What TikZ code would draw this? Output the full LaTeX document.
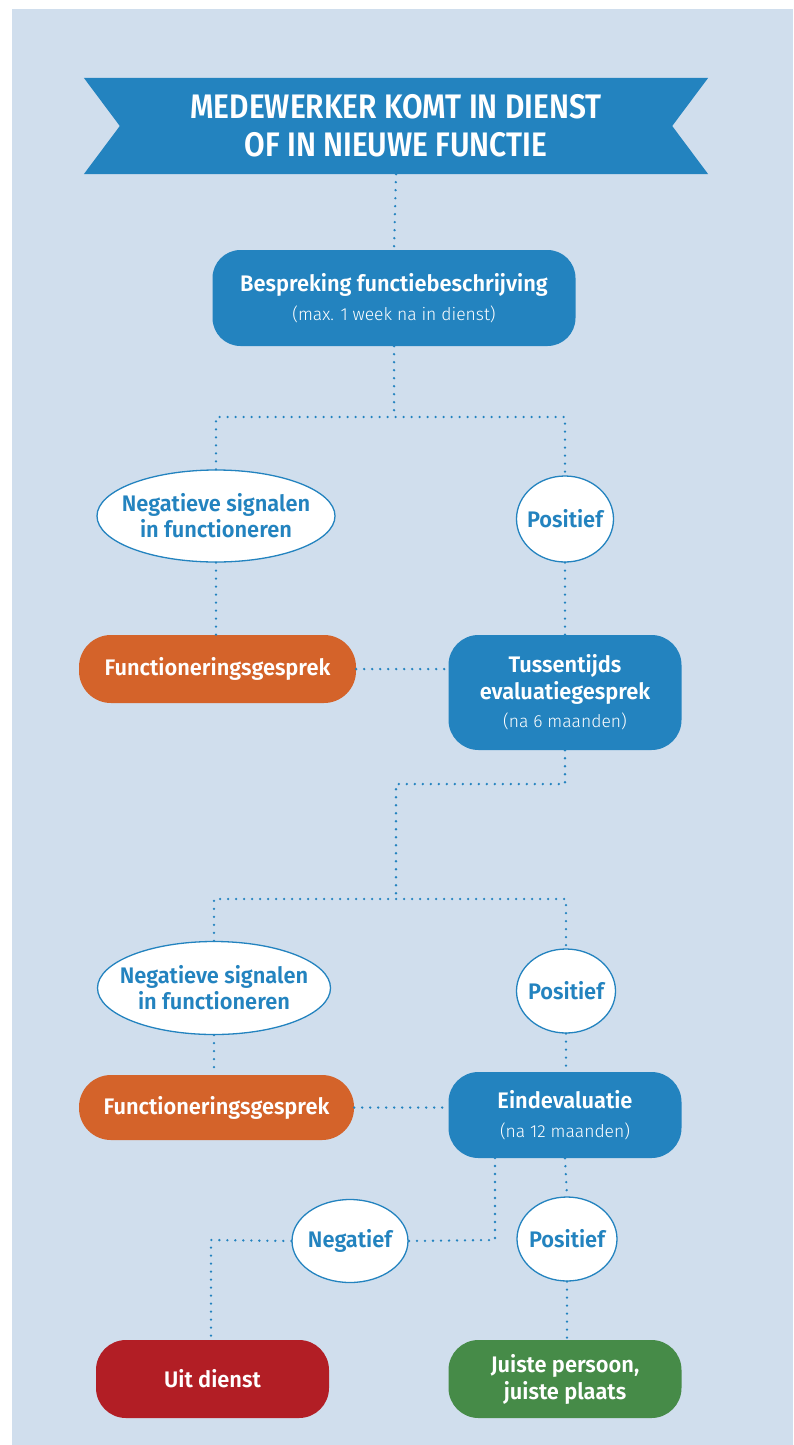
\documentclass[tikz,border=0pt]{standalone}
\usepackage{fontspec}
\setmainfont{Fira Sans}
\newfontfamily\fsemi{Fira Sans SemiBold}[FakeStretch=0.97]
\newfontfamily\flight{Fira Sans Light}
\newfontfamily\fban{Fira Sans SemiBold}[FakeStretch=0.88]
\usetikzlibrary{shapes.geometric,backgrounds}
\definecolor{bg}{HTML}{D0DEED}
\definecolor{mblue}{HTML}{2383BF}
\definecolor{morange}{HTML}{D4632A}
\definecolor{mred}{HTML}{B21E25}
\definecolor{mgreen}{HTML}{468B48}
\tikzset{
  box/.style={rectangle, rounded corners=28pt, fill=mblue, text=white, align=center,
    font=\fsemi\fontsize{22.5}{27}\selectfont, inner sep=0pt},
  oval/.style={ellipse, draw=mblue, line width=1.3pt, fill=white, text=mblue, align=center,
    inner xsep=-24pt, inner ysep=-4pt, font=\fsemi\fontsize{22.5}{26}\selectfont},
  conn/.style={mblue, line width=2.6pt, line cap=round, dash pattern=on 0pt off 8pt}
}
\newcommand{\subt}[1]{{\flight\fontsize{17.5}{20}\selectfont #1}}
\begin{document}
\begin{tikzpicture}[x=1pt,y=-1pt]
\useasboundingbox (0,0) rectangle (793,1445);
% banner
\node[minimum width=624pt, minimum height=96pt, inner sep=0pt, text=white, align=center,
  font=\fban\fontsize{34}{38}\selectfont] (banner) at (396,126)
  {MEDEWERKER KOMT IN DIENST\\OF IN NIEUWE FUNCTIE};
\begin{scope}[on background layer]
  \fill[bg] (12,9) rectangle (793,1445);
  \fill[mblue] (banner.north west) -- (banner.north east) -- ([xshift=-36pt]banner.east)
    -- (banner.south east) -- (banner.south west) -- ([xshift=36pt]banner.west) -- cycle;
\end{scope}
% nodes
\node[box, minimum width=363pt, minimum height=96pt] (b1) at (394,298)
  {Bespreking functiebeschrijving\\[2pt]\subt{(max. 1 week na in dienst)}};
\node[oval, minimum width=238pt, minimum height=92pt] (neg1) at (216,516)
  {Negatieve signalen\\in functioneren};
\node[oval, minimum width=97pt, minimum height=86pt] (pos1) at (565,519) {Positief};
\node[box, fill=morange, rounded corners=32pt, minimum width=277pt, minimum height=68pt] (f1) at (217.5,669)
  {Functioneringsgesprek};
\node[box, minimum width=233pt, minimum height=115pt, rounded corners=30pt] (t1) at (565,692.5)
  {Tussentijds\\evaluatiegesprek\\[1pt]\subt{(na 6 maanden)}};
\node[oval, minimum width=233pt, minimum height=93pt] (neg2) at (214,988)
  {Negatieve signalen\\in functioneren};
\node[oval, minimum width=99pt, minimum height=84pt] (pos2) at (566,991) {Positief};
\node[box, fill=morange, rounded corners=32pt, minimum width=275pt, minimum height=65pt] (f2) at (216.5,1107.5)
  {Functioneringsgesprek};
\node[box, minimum width=233pt, minimum height=86pt, rounded corners=30pt] (e1) at (565,1115)
  {Eindevaluatie\\[2pt]\subt{(na 12 maanden)}};
\node[oval, minimum width=116pt, minimum height=83pt] (neg3) at (350,1241) {Negatief};
\node[oval, minimum width=100pt, minimum height=84pt] (pos3) at (567,1239) {Positief};
\node[box, fill=mred, rounded corners=30pt, minimum width=233pt, minimum height=78pt] (red) at (212.5,1379)
  {Uit dienst};
\node[box, fill=mgreen, rounded corners=30pt, minimum width=233pt, minimum height=78pt] (green) at (565,1379)
  {Juiste persoon,\\juiste plaats};
% coordinates
\coordinate (j1) at (394,417);
\coordinate (k1) at (565,784);
\coordinate (k2) at (396,784);
\coordinate (j2) at (396,899);
\coordinate (e1a) at (495,1158);
\coordinate (m1) at (495,1240);
\coordinate (m2) at (211,1240);
% connectors
\draw[conn] (banner.south) -- (b1.north);
\draw[conn] (b1.south) -- (j1);
\draw[conn] (neg1.north) |- (j1) -| (pos1.north);
\draw[conn] (neg1.south) -- (neg1.south |- f1.north);
\draw[conn] (pos1.south) -- (t1.north);
\draw[conn] (f1.east) -- (f1.east -| t1.west);
\draw[conn] (t1.south) -- (k1) -- (k2) -- (j2);
\draw[conn] (neg2.north) |- (j2) -| (pos2.north);
\draw[conn] (neg2.south) -- (neg2.south |- f2.north);
\draw[conn] (pos2.south) -- (pos2.south |- e1.north);
\draw[conn] (f2.east) -- (f2.east -| e1.west);
\draw[conn] (e1a) -- (m1) -- (neg3.east);
\draw[conn] (e1.south) -- (pos3.north);
\draw[conn] (neg3.west) -- (m2) -- (m2 |- red.north);
\draw[conn] (pos3.south) -- (pos3.south |- green.north);
\end{tikzpicture}
\end{document}
